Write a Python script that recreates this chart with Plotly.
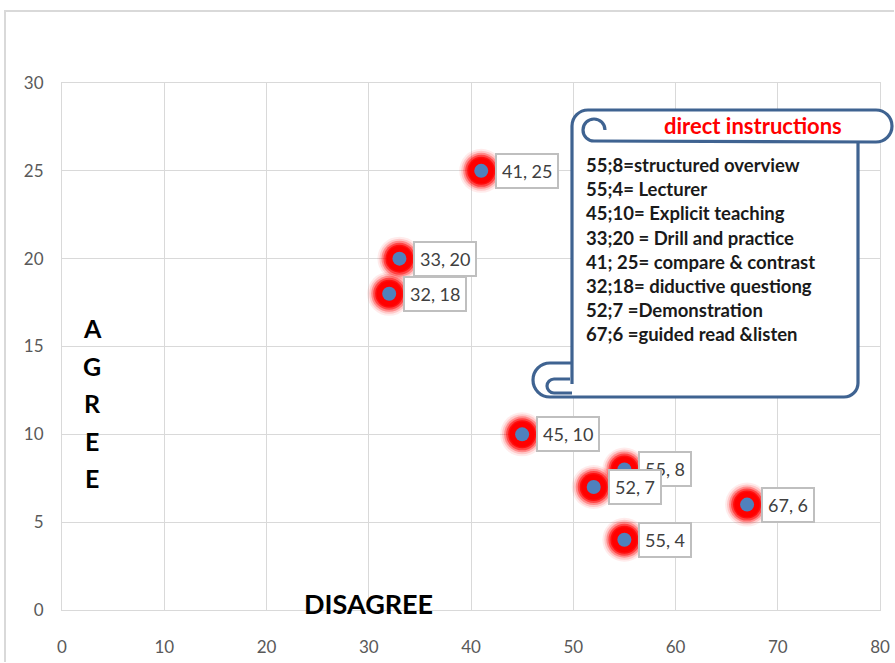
import math
import plotly.graph_objects as go

# ---------------- data ----------------
disagree = [41, 33, 32, 45, 55, 52, 67, 55]
agree = [25, 20, 18, 10, 8, 7, 6, 4]
point_labels = ["41, 25", "33, 20", "32, 18", "45, 10", "55, 8", "52, 7", "67, 6", "55, 4"]

x_ticks = [0, 10, 20, 30, 40, 50, 60, 70, 80]
y_ticks = [0, 5, 10, 15, 20, 25, 30]

legend_title = "direct instructions"
legend_lines = [
    "55;8=structured overview",
    "55;4= Lecturer",
    "45;10= Explicit teaching",
    "33;20 = Drill and practice",
    "41; 25= compare & contrast",
    "32;18= diductive questiong",
    "52;7 =Demonstration",
    "67;6 =guided read &listen",
]
x_title = "DISAGREE"
y_title = "AGREE"

# ---------------- layout geometry (pixels) ----------------
W, H = 895, 663
L, R, T, B = 62, 880, 83, 610
FONT = "Lato"


def px(x):
    return (x - L) / (R - L)


def py(y):
    return (B - y) / (B - T)


def P(x, y):
    return f"{px(x):.5f},{py(y):.5f}"


def arc(cx, cy, r, a0, a1, start=False):
    """cubic bezier approximation of a circular arc in pixel space (angles deg, y down)."""
    out = []
    n = max(1, int(math.ceil(abs(a1 - a0) / 90.0)))
    step = (a1 - a0) / n
    for i in range(n):
        t0 = math.radians(a0 + i * step)
        t1 = math.radians(a0 + (i + 1) * step)
        k = 4.0 / 3.0 * math.tan((t1 - t0) / 4.0)
        x0, y0 = cx + r * math.cos(t0), cy + r * math.sin(t0)
        x3, y3 = cx + r * math.cos(t1), cy + r * math.sin(t1)
        x1, y1 = x0 - k * r * math.sin(t0), y0 + k * r * math.cos(t0)
        x2, y2 = x3 + k * r * math.sin(t1), y3 - k * r * math.cos(t1)
        if start and i == 0:
            out.append(f"M{P(x0, y0)}")
        out.append(f"C{P(x1, y1)} {P(x2, y2)} {P(x3, y3)}")
    return " ".join(out)


fig = go.Figure()

# glow layers
glow = [(44, 0.08), (40, 0.15), (36, 0.3), (32, 0.5), (28, 0.8), (25, 1.0)]
for size, op in glow:
    fig.add_trace(go.Scatter(
        x=disagree, y=agree, mode="markers",
        marker=dict(size=size, color="red", opacity=op, line=dict(width=0)),
        hoverinfo="skip", showlegend=False))
fig.add_trace(go.Scatter(
    x=disagree, y=agree, mode="markers",
    marker=dict(size=14, color="#4F81BD", line=dict(width=0)),
    showlegend=False))

annotations = []
for xv, yv, lab in zip(disagree, agree, point_labels):
    annotations.append(dict(
        x=xv, y=yv, xref="x", yref="y", text=lab, showarrow=False,
        xanchor="left", yanchor="middle", xshift=14,
        font=dict(family=FONT, size=18, color="#404040"),
        bgcolor="white", bordercolor="#BFBFBF", borderwidth=2, borderpad=5))

# ---------------- scroll shape ----------------
LC = "#3F6391"
LW = 3.2
shapes = []
# outer chart border (top and left edges; right/bottom are outside the picture)
shapes.append(dict(type="path", xref="paper", yref="paper", layer="below",
                   path=f"M{P(5, H - 1)} L{P(5, 11)} L{P(W - 1, 11)}",
                   line=dict(color="#D9D9D9", width=2)))

# body fill
body = (f"M{P(572,126)} L{P(858,126)} L{P(858,383)} " + arc(844, 383, 14, 0, 90) +
        f" L{P(550,397)} " + arc(550, 380, 17, 90, 270) + f" L{P(572,363)} Z")
shapes.append(dict(type="path", xref="paper", yref="paper", path=body,
                   fillcolor="white", line=dict(width=0)))
# top band fill + outline
band = (f"M{P(588,110)} L{P(876,110)} " + arc(876, 126, 16, -90, 90) +
        f" L{P(588,142)} " + arc(588, 126, 16, 90, 270) + " Z")
shapes.append(dict(type="path", xref="paper", yref="paper", path=band,
                   fillcolor="white", line=dict(width=0)))
band_line = (arc(572 + 16, 126, 16, 180, 270, start=True) + f" L{P(876,110)} " +
             arc(876, 126, 16, -90, 90) + f" L{P(594,141)} " +
             arc(594, 130, 11, 90, 360) + f" L{P(605,130)}")
shapes.append(dict(type="path", xref="paper", yref="paper", path=band_line,
                   line=dict(color=LC, width=LW)))
# body outline
body_line = (f"M{P(572,126)} L{P(572,384)} M{P(858,142)} L{P(858,383)} " +
             arc(844, 383, 14, 0, 90) + f" L{P(550,397)} " +
             arc(550, 380, 17, 90, 270) + f" L{P(572,363)}" +
             f" M{P(570,379)} L{P(554,379)} " + arc(554, 386, 7, 270, 90) +
             f" L{P(572,393)}")
shapes.append(dict(type="path", xref="paper", yref="paper", path=body_line,
                   line=dict(color=LC, width=LW)))

# scroll texts
annotations.append(dict(x=px(753), y=py(126), xref="paper", yref="paper",
                        text=f"<b>{legend_title}</b>", showarrow=False,
                        xanchor="center", yanchor="middle",
                        font=dict(family=FONT, size=22, color="#FF0000")))
for i, line in enumerate(legend_lines):
    annotations.append(dict(x=px(584), y=py(165 + i * 24.2), xref="paper", yref="paper",
                            text=f"<b>{line}</b>", showarrow=False,
                            xanchor="left", yanchor="middle",
                            font=dict(family=FONT, size=18.5, color="#1A1A1A")))

# axis titles
annotations.append(dict(x=px(368), y=py(603), xref="paper", yref="paper",
                        text=f"<b>{x_title}</b>", showarrow=False,
                        xanchor="center", yanchor="middle",
                        font=dict(family=FONT, size=27, color="black")))
for i, ch in enumerate(y_title):
    annotations.append(dict(x=px(92), y=py(328 + i * 37.5), xref="paper", yref="paper",
                            text=f"<b>{ch}</b>", showarrow=False,
                            xanchor="center", yanchor="middle",
                            font=dict(family=FONT, size=25, color="black")))

fig.update_layout(
    width=W, height=H,
    margin=dict(l=L, r=W - R, t=T, b=H - B, pad=0),
    paper_bgcolor="white", plot_bgcolor="white",
    shapes=shapes, annotations=annotations,
    font=dict(family=FONT),
)
fig.update_xaxes(range=[0, 80], tickvals=x_ticks, showgrid=True, gridcolor="#D9D9D9",
                 gridwidth=1.3, zeroline=False, showline=True, linecolor="#D9D9D9",
                 mirror=True, ticks="", ticklabelstandoff=22, automargin=False,
                 tickfont=dict(family=FONT, size=17, color="#595959"))
fig.update_yaxes(range=[0, 30], tickvals=y_ticks, showgrid=True, gridcolor="#D9D9D9",
                 gridwidth=1.3, zeroline=False, showline=True, linecolor="#D9D9D9",
                 mirror=True, ticks="", ticklabelstandoff=14, automargin=False,
                 tickfont=dict(family=FONT, size=17, color="#595959"))

fig.write_html("out.html", config={"displayModeBar": False},
               post_script="document.body.style.margin='0';document.body.style.overflow='hidden';")
